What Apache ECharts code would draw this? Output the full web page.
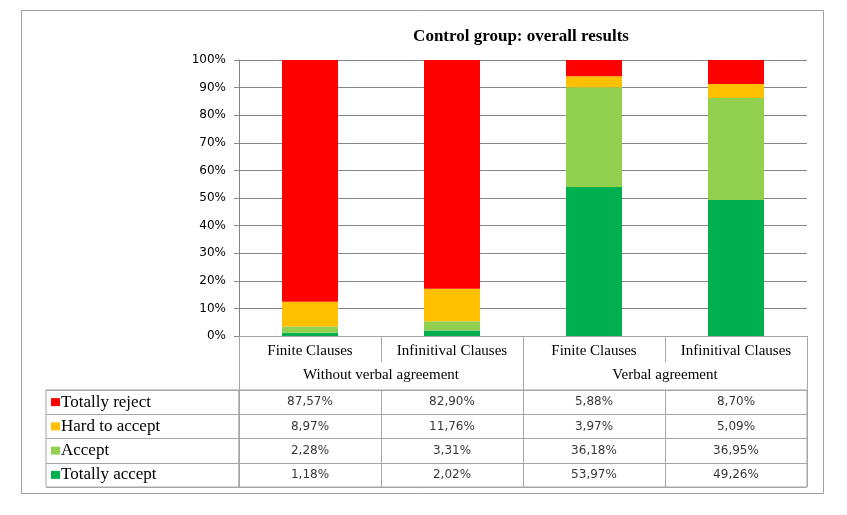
<!DOCTYPE html>
<html>
<head>
<meta charset="utf-8">
<script src="https://cdn.jsdelivr.net/npm/echarts@6/dist/echarts.min.js"></script>
<style>
html,body{margin:0;padding:0;background:#fff;}
#main{width:847px;height:515px;}
</style>
</head>
<body>
<div id="main"></div>
<script>
const categories = ['Finite Clauses', 'Infinitival Clauses', 'Finite Clauses', 'Infinitival Clauses'];
const groups = ['Without verbal agreement', 'Verbal agreement'];
const seriesNames = ['Totally reject', 'Hard to accept', 'Accept', 'Totally accept'];
const totallyReject = [87.57, 82.90, 5.88, 8.70];
const hardToAccept = [8.97, 11.76, 3.97, 5.09];
const accept = [2.28, 3.31, 36.18, 36.95];
const totallyAccept = [1.18, 2.02, 53.97, 49.26];
const yTicks = [0, 10, 20, 30, 40, 50, 60, 70, 80, 90, 100];

const colors = {
  'Totally reject': '#FF0000',
  'Hard to accept': '#FFC000',
  'Accept': '#92D050',
  'Totally accept': '#00B050'
};
const valuesByName = {
  'Totally reject': totallyReject,
  'Hard to accept': hardToAccept,
  'Accept': accept,
  'Totally accept': totallyAccept
};

const fmt = v => v.toFixed(2).replace('.', ',') + '%';
const lineColor = '#a6a6a6';
const serif = "'Liberation Serif', 'DejaVu Serif', serif";
const sans = "'DejaVu Sans', sans-serif";

const chart = echarts.init(document.getElementById('main'), null, {renderer: 'canvas'});

// bars (bottom to top)
const stackOrder = ['Totally accept', 'Accept', 'Hard to accept', 'Totally reject'];
const barSeries = stackOrder.map(n => ({
  name: n,
  type: 'bar',
  stack: 'total',
  xAxisIndex: 0,
  yAxisIndex: 0,
  barWidth: 56,
  itemStyle: {color: colors[n]},
  data: valuesByName[n]
}));

// table values
const tableData = [];
seriesNames.forEach((n, r) => {
  valuesByName[n].forEach((v, c) => tableData.push([c, r, v]));
});

const richLegend = {};
seriesNames.forEach((n, i) => {
  richLegend['s' + i] = {backgroundColor: colors[n], width: 9, height: 8};
  richLegend['t' + i] = {fontFamily: serif, fontSize: 17, color: '#000', padding: [0, 0, 0, 1]};
});

chart.setOption({
  animation: false,
  backgroundColor: '#fff',
  title: {
    text: 'Control group: overall results',
    left: 516,
    top: 23,
    textAlign: 'center',
    textStyle: {fontFamily: serif, fontWeight: 'bold', fontSize: 17, color: '#000'}
  },
  graphic: [{
    type: 'rect',
    shape: {x: 21.5, y: 10.5, width: 802, height: 483},
    style: {fill: 'none', stroke: '#a0a0a0', lineWidth: 1},
    silent: true,
    z: -1
  }],
  grid: [
    {left: 239, right: 40, top: 60, bottom: 179},
    {left: 239, right: 40, top: 390, bottom: 28, show: true, borderColor: lineColor, borderWidth: 1, backgroundColor: 'transparent'},
    {left: 46, right: 608, top: 390, bottom: 28, show: true, borderColor: lineColor, borderWidth: 1, backgroundColor: 'transparent'}
  ],
  xAxis: [
    {
      type: 'category', gridIndex: 0, data: categories,
      axisLine: {lineStyle: {color: lineColor}},
      axisTick: {show: true, length: 26, interval: 0, lineStyle: {color: lineColor}},
      axisLabel: {interval: 0, margin: 8, fontFamily: serif, fontSize: 15, color: '#000'}
    },
    {
      type: 'category', gridIndex: 0, position: 'bottom', offset: 26, data: groups,
      axisLine: {show: false},
      axisTick: {show: true, length: 28, interval: 0, lineStyle: {color: lineColor}},
      axisLabel: {interval: 0, margin: 6, fontFamily: serif, fontSize: 15, color: '#000'}
    },
    {
      type: 'category', gridIndex: 1, data: categories,
      axisLine: {show: false}, axisTick: {show: false}, axisLabel: {show: false},
      splitLine: {show: true, interval: 0, lineStyle: {color: lineColor}}
    },
    {
      type: 'value', gridIndex: 2, show: false
    }
  ],
  yAxis: [
    {
      type: 'value', gridIndex: 0, min: 0, max: 100, interval: 10,
      axisLine: {show: true, lineStyle: {color: '#868686'}},
      axisTick: {show: true, length: 5, lineStyle: {color: '#868686'}},
      splitLine: {show: true, lineStyle: {color: '#868686'}},
      axisLabel: {
        margin: 13, fontFamily: sans, fontSize: 12, color: '#000',
        formatter: v => yTicks.indexOf(v) >= 0 ? v + '%' : ''
      }
    },
    {
      type: 'category', gridIndex: 1, inverse: true, data: seriesNames,
      axisLine: {show: false}, axisTick: {show: false}, axisLabel: {show: false},
      splitLine: {show: true, interval: 0, lineStyle: {color: lineColor}}
    },
    {
      type: 'category', gridIndex: 2, inverse: true, data: seriesNames,
      axisLine: {show: false}, axisTick: {show: false},
      splitLine: {show: true, interval: 0, lineStyle: {color: lineColor}},
      axisLabel: {
        inside: true, margin: 5, align: 'left', interval: 0,
        formatter: (v, i) => '{s' + i + '|}{t' + i + '|' + v + '}',
        rich: richLegend
      }
    }
  ],
  series: barSeries.concat([{
    type: 'scatter',
    xAxisIndex: 2,
    yAxisIndex: 1,
    symbolSize: 0,
    silent: true,
    data: tableData,
    label: {
      show: true, position: 'inside',
      formatter: p => fmt(p.value[2]),
      fontFamily: sans, fontSize: 12, color: '#000'
    }
  }])
});
</script>
</body>
</html>
